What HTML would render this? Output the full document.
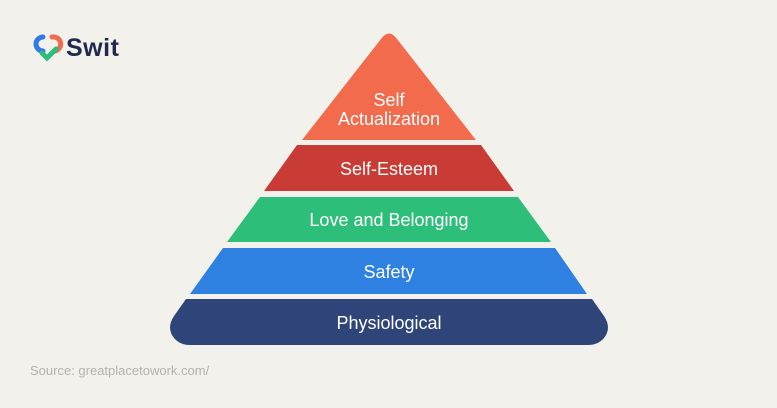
<!DOCTYPE html>
<html><head><meta charset="utf-8"><style>
html,body{margin:0;padding:0;background:#f2f1eb;}
svg{display:block}
</style></head><body>
<svg width="777" height="408" viewBox="0 0 777 408" xmlns="http://www.w3.org/2000/svg">
<rect width="777" height="408" fill="#f2f1eb"/>
<!-- logo -->
<g fill="none" stroke-linecap="round" stroke-width="5">
<path d="M43 37 A7 7 0 1 0 43 51" stroke="#2f7be6"/>
<path d="M52 37 A7 7 0 1 1 55 51" stroke="#f26b4f"/>
<path d="M42 53 L47 58 L56 49" stroke="#2dbe79"/>
</g>
<text x="66" y="56" font-family="Liberation Sans, sans-serif" font-weight="bold" font-size="25" letter-spacing="0.5" fill="#1f2a4d">Swit</text>
<!-- pyramid -->
<path d="M381 39 Q389 28 397 39 L476 140 L302 140 Z" fill="#f36b4d"/>
<polygon points="297,145 481,145 514,191 264,191" fill="#c83c35"/>
<polygon points="260,197 518,197 551,242 227,242" fill="#2dbf79"/>
<polygon points="223,248 555,248 587,294 190,294" fill="#2f81e1"/>
<path d="M186 299 L592 299 L604 316 Q612 328 604 338 Q598 345 588 345 L190 345 Q180 345 174 338 Q166 328 174 316 Z" fill="#2f4579"/>
<g font-family="Liberation Sans, sans-serif" font-size="18" fill="#fff" text-anchor="middle">
<text x="389" y="106">Self</text>
<text x="389" y="125">Actualization</text>
<text x="389" y="175">Self-Esteem</text>
<text x="389" y="226">Love and Belonging</text>
<text x="389" y="278">Safety</text>
<text x="389" y="329">Physiological</text>
</g>
<text x="30" y="375" font-family="Liberation Sans, sans-serif" font-size="13" fill="#b3b2ab">Source: greatplacetowork.com/</text>
</svg>
</body></html>
